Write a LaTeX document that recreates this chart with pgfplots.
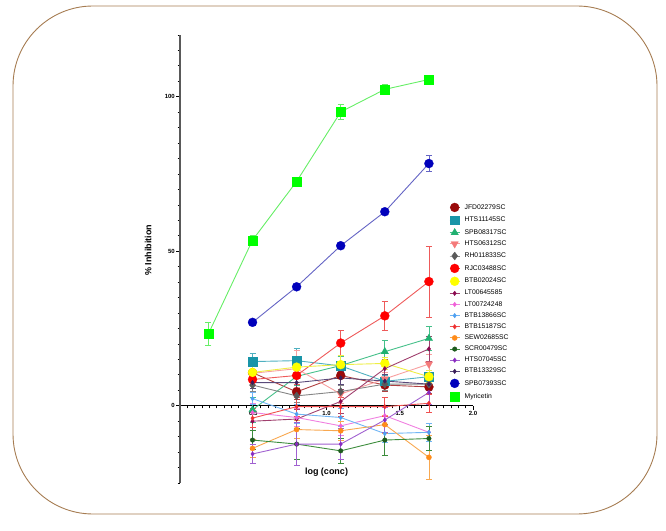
\documentclass[border=0pt]{standalone}
\usepackage{pgfplots}
\pgfplotsset{compat=1.18}
\usepackage{fontspec}
\setmainfont{Liberation Sans}

% marker colours (m) and lighter line colours (l)
\definecolor{jfdm}{HTML}{990A0A}\definecolor{jfdl}{HTML}{B04040}
\definecolor{htsam}{HTML}{1995A8}\definecolor{htsal}{HTML}{4FB0C0}
\definecolor{spbam}{HTML}{20B070}\definecolor{spbal}{HTML}{45C08A}
\definecolor{htsbm}{HTML}{F47A7A}\definecolor{htsbl}{HTML}{F8A0A0}
\definecolor{rhm}{HTML}{5A5A5A}\definecolor{rhl}{HTML}{858585}
\definecolor{rjcm}{HTML}{FF0000}\definecolor{rjcl}{HTML}{EE5A5A}
\definecolor{btbam}{HTML}{FFFF00}\definecolor{btbal}{HTML}{EEEE44}
\definecolor{ltam}{HTML}{8B0A50}\definecolor{ltal}{HTML}{A0406E}
\definecolor{ltbm}{HTML}{F060D8}\definecolor{ltbl}{HTML}{F080E0}
\definecolor{btbbm}{HTML}{4FA0F0}\definecolor{btbbl}{HTML}{70B5F5}
\definecolor{btbcm}{HTML}{EE3030}\definecolor{btbcl}{HTML}{F05050}
\definecolor{sewm}{HTML}{FF8C1A}\definecolor{sewl}{HTML}{F8A850}
\definecolor{scrm}{HTML}{1E5A1E}\definecolor{scrl}{HTML}{3C8C3C}
\definecolor{htscm}{HTML}{8A2BC0}\definecolor{htscl}{HTML}{A060D0}
\definecolor{btbdm}{HTML}{3A1E5A}\definecolor{btbdl}{HTML}{5A4A7A}
\definecolor{spbbm}{HTML}{0000BB}\definecolor{spbbl}{HTML}{6464C4}
\definecolor{myrm}{HTML}{00FF00}\definecolor{myrl}{HTML}{66EE66}
\definecolor{frame}{HTML}{A67C52}

\pgfplotsset{
  series/.style n args={4}{% marker colour, line colour, mark, mark size
    color=#2, line width=0.9pt, mark=#3, mark size=#4,
    mark options={fill=#1, draw=#1, solid, line width=0.3pt},
    error bars/y dir=both, error bars/y explicit,
    error bars/error bar style={color=#2, line width=0.8pt},
    error bars/error mark options={rotate=90, mark size=3pt, color=#2, line width=0.8pt},
  },
}

\begin{document}
\begin{tikzpicture}[x=1pt,y=1pt]
\useasboundingbox (0,0) rectangle (666,530);
\draw[color=frame, line width=0.9pt, rounded corners=80pt] (13,16) rectangle (657,524);
\begin{axis}[
  at={(180pt,47pt)}, anchor=south west,
  scale only axis, width=293pt, height=448pt,
  xmin=0, xmax=2, ymin=-25, ymax=120,
  axis x line*=middle, axis y line*=left,
  x axis line style={black, line width=1.4pt},
  y axis line style={black!65, line width=1.3pt},
  xtick={0.5,1,1.5,2}, ytick={0,50,100},
  minor xtick={0.05,0.1,...,1.96},
  minor ytick={-25,-20,...,120},
  hide obscured x ticks=false, hide obscured y ticks=false,
  tick align=outside,
  major tick length=4pt, minor tick length=2.5pt,
  every tick/.style={black, line width=0.8pt},
  /pgf/number format/assume math mode=true,
  xticklabel style={/pgf/number format/fixed, /pgf/number format/fixed zerofill, /pgf/number format/precision=1, inner sep=1.5pt},
  yticklabel style={inner sep=1pt},
  tick label style={font=\bfseries\fontsize{6}{7}\selectfont},
  xlabel={log (conc)}, ylabel={\% Inhibition},
  every axis x label/.style={at={(axis description cs:0.5,0.025)}, anchor=center, font=\bfseries\fontsize{9}{10}\selectfont},
  every axis y label/.style={at={(axis description cs:-0.109,0.52)}, rotate=90, anchor=center, font=\bfseries\fontsize{9}{10}\selectfont},
  legend style={at={(rel axis cs:0.908,0.63)}, anchor=north west, draw=none, fill=none,
    font=\fontsize{6.8}{7}\selectfont, row sep=3.9pt, nodes={inner sep=0.5pt},
    /tikz/every odd column/.style={column sep=4pt}},
  legend cell align=left,
  legend image code/.code={\draw[mark repeat=2,mark phase=2] plot coordinates {(0pt,0pt)(5pt,0pt)(10pt,0pt)};},
]
\addplot[series={jfdm}{jfdl}{*}{4.5}] table[y error=e] {
x y e
0.495 10.7 2
0.796 4.5 2.5
1.097 9.8 3
1.398 6.7 2
1.699 6.1 2
};
\addlegendentry{JFD02279SC}
\addplot[series={htsam}{htsal}{square*}{4.3}] table[y error=e] {
x y e
0.495 14.3 2.5
0.796 14.6 4
1.097 12.9 3
1.398 7.9 2
1.699 9.4 2
};
\addlegendentry{HTS11145SC}
\addplot[series={spbam}{spbal}{triangle*}{4.3}] table[y error=e] {
x y e
0.495 -1.3 4
0.796 9.5 3
1.097 13.0 3
1.398 17.5 3.5
1.699 21.8 4
};
\addlegendentry{SPB08317SC}
\addplot[series={htsbm}{htsbl}{triangle*}{4.3}, every mark/.append style={rotate=180}] table[y error=e] {
x y e
0.495 10.5 2.5
0.796 12.0 6
1.097 3.8 3
1.398 8.7 2
1.699 13.5 3
};
\addlegendentry{HTS06312SC}
\addplot[series={rhm}{rhl}{diamond*}{4}] table[y error=e] {
x y e
0.495 6.7 2
0.796 3.2 2
1.097 4.6 2
1.398 7.0 2
1.699 7.0 2
};
\addlegendentry{RH011833SC}
\addplot[series={rjcm}{rjcl}{*}{4.5}] table[y error=e] {
x y e
0.495 8.5 2
0.796 9.8 3
1.097 20.3 4
1.398 29.1 4.7
1.699 40.2 11.5
};
\addlegendentry{RJC03488SC}
\addplot[series={btbam}{btbal}{*}{4.5}] table[y error=e] {
x y e
0.495 10.8 2
0.796 12.5 2
1.097 13.3 3
1.398 13.7 2
1.699 9.4 2
};
\addlegendentry{BTB02024SC}
\addplot[series={ltam}{ltal}{diamond*}{2.3}] table[y error=e] {
x y e
0.495 -5.0 3
0.796 -4.3 3
1.097 1.4 4
1.398 12.0 3
1.699 18.4 4
};
\addlegendentry{LT00645585}
\addplot[series={ltbm}{ltbl}{diamond*}{2.3}] table[y error=e] {
x y e
0.495 -2.2 3
0.796 -3.8 3
1.097 -6.5 3
1.398 -3.2 3
1.699 -8.6 3
};
\addlegendentry{LT00724248}
\addplot[series={btbbm}{btbbl}{diamond*}{2.3}] table[y error=e] {
x y e
0.495 2.3 2
0.796 -2.7 3
1.097 -3.8 3
1.398 -9.0 3
1.699 -8.6 3
};
\addlegendentry{BTB13866SC}
\addplot[series={btbcm}{btbcl}{diamond*}{2.3}] table[y error=e] {
x y e
0.495 -4.0 3
0.796 -0.3 3
1.097 -0.3 3
1.398 -0.3 3
1.699 0.8 3
};
\addlegendentry{BTB15187SC}
\addplot[series={sewm}{sewl}{*}{2.6}] table[y error=e] {
x y e
0.495 -13.8 3
0.796 -7.7 3
1.097 -8.1 3
1.398 -6.1 3
1.699 -16.7 7
};
\addlegendentry{SEW02685SC}
\addplot[series={scrm}{scrl}{*}{2.3}] table[y error=e] {
x y e
0.495 -11.1 3
0.796 -12.4 5
1.097 -14.6 4
1.398 -11.1 5
1.699 -10.6 4
};
\addlegendentry{SCR00479SC}
\addplot[series={htscm}{htscl}{diamond*}{2.3}] table[y error=e] {
x y e
0.495 -15.6 3
0.796 -12.4 7
1.097 -12.4 5
1.398 -4.6 4
1.699 4.3 4
};
\addlegendentry{HTS07045SC}
\addplot[series={btbdm}{btbdl}{diamond*}{2.3}] table[y error=e] {
x y e
0.495 7.5 2
0.796 7.5 2
1.097 9.0 2
1.398 8.0 2
1.699 7.0 2
};
\addlegendentry{BTB13329SC}
\addplot[series={spbbm}{spbbl}{*}{4.5}] table[y error=e] {
x y e
0.495 27.0 1
0.796 38.5 0.8
1.097 51.8 0.8
1.398 62.8 1
1.699 78.4 2.5
};
\addlegendentry{SPB07393SC}
\addplot[series={myrm}{myrl}{square*}{4.5}] table[y error=e] {
x y e
0.194 23.3 3.8
0.495 53.6 1.5
0.796 72.6 1
1.097 95.1 2.5
1.398 102.4 1.5
1.699 105.6 1.2
};
\addlegendentry{Myricetin}
\end{axis}
\end{tikzpicture}
\end{document}
